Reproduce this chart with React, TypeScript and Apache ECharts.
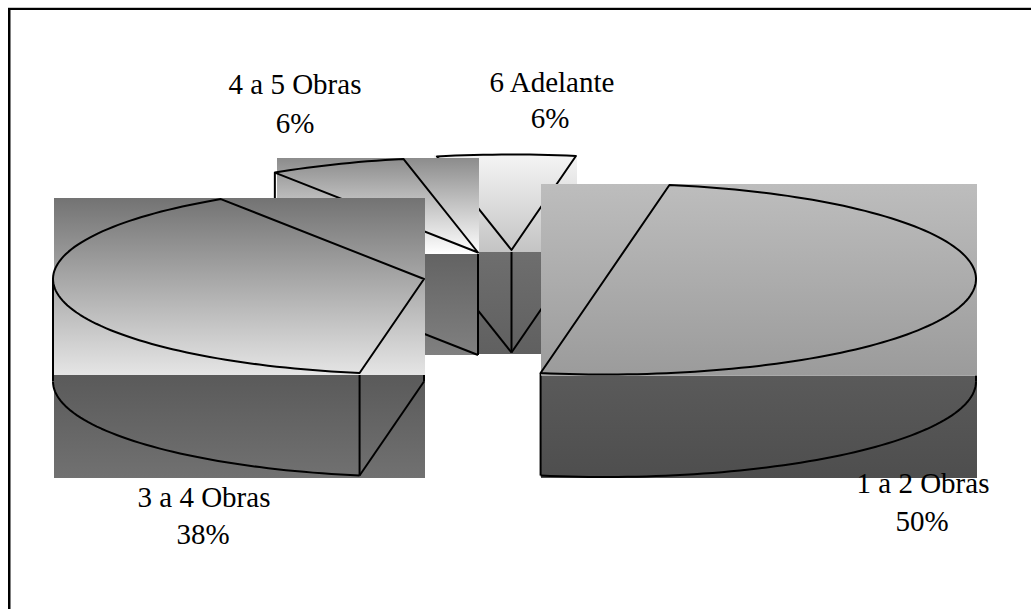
import React, { useEffect, useRef } from "react";
import * as echarts from "echarts";

const categories = ["1 a 2 Obras", "3 a 4 Obras", "4 a 5 Obras", "6 Adelante"];
const percents = [50, 38, 6, 6];
const startAngleDeg = 80;

const FONT = '"Liberation Serif", "Times New Roman", serif';
const RX = 371;
const RY = 95.5;
const THICK = 102.5;

// Drawing layout of each exploded slice (pixels on the 1031x609 page).
const sliceLayouts = [
  {
    apex: [605, 279], top: [541, 184, 436, 191.7], side: [541, 375.7, 436, 102.3],
    topColors: ["#bdbdbd", "#9b9b9b"], sideColors: ["#5a5a5a", "#4e4e4e"],
    frontArc: true, startEdge: false, endEdge: false, rimStart: false,
  },
  {
    apex: [424, 279], top: [54, 198, 371, 177], side: [54, 375, 371, 103],
    topColors: ["#737373", "#e5e5e5"], sideColors: ["#5a5a5a", "#717171"],
    frontArc: true, startEdge: true, endEdge: false, rimStart: false,
  },
  {
    apex: [478, 252.5], top: [277, 158, 202, 96], side: [277, 254, 202, 101],
    topColors: ["#8c8c8c", "#ffffff"], sideColors: ["#636363", "#808080"],
    frontArc: false, startEdge: true, endEdge: false, rimStart: true,
  },
  {
    apex: [511.5, 250], top: [434, 155, 143, 97], side: [434, 252, 143, 102],
    topColors: ["#f4f4f4", "#c4c4c4"], sideColors: ["#6e6e6e", "#606060"],
    frontArc: false, startEdge: true, endEdge: true, rimStart: false,
  },
];

const labelLayouts = [
  { x: 923, y1: 490, x2: 922, y2: 528 },
  { x: 204, y1: 504, x2: 203, y2: 541 },
  { x: 295, y1: 91, x2: 295, y2: 130 },
  { x: 552, y1: 89, x2: 550, y2: 125 },
];

const LINE = { stroke: "#000", lineWidth: 2, fill: null as any, lineJoin: "round" };

function onEllipse(apex: number[], deg: number, dy = 0): number[] {
  const t = (deg * Math.PI) / 180;
  return [apex[0] + RX * Math.cos(t), apex[1] - RY * Math.sin(t) + dy];
}

function arcPoints(apex: number[], from: number, to: number, dy = 0): number[][] {
  const n = Math.max(2, Math.ceil(Math.abs(from - to) / 1.5));
  const pts: number[][] = [];
  for (let i = 0; i <= n; i++) pts.push(onEllipse(apex, from + ((to - from) * i) / n, dy));
  return pts;
}

function sliceAngles(index: number): [number, number] {
  let a = startAngleDeg;
  for (let i = 0; i < index; i++) a -= (percents[i] * 360) / 100;
  return [a, a - (percents[index] * 360) / 100];
}

function gradient(c: string[]) {
  return new echarts.graphic.LinearGradient(0, 0, 0, 1, [
    { offset: 0, color: c[0] },
    { offset: 1, color: c[1] },
  ]);
}

function rectEl(r: number[], colors: string[]) {
  return {
    type: "rect",
    shape: { x: r[0], y: r[1], width: r[2], height: r[3] },
    style: { fill: gradient(colors), stroke: null },
  };
}

function lineEl(points: number[][]) {
  return { type: "polyline", shape: { points }, style: { ...LINE } };
}

function renderSlice(_params: any, api: any) {
  const index = api.value(0);
  const l = sliceLayouts[index];
  const [a0, a1] = sliceAngles(index);
  const children: any[] = [];

  children.push(rectEl(l.side, l.sideColors));

  if (l.frontArc) {
    // the lower rim is visible only on the front half of the ellipse (0 to -180 degrees)
    const from = Math.min(a0, 0);
    const to = Math.max(a1, -180);
    children.push(lineEl(arcPoints(l.apex, from, to, THICK)));
    children.push(lineEl([onEllipse(l.apex, from), onEllipse(l.apex, from, THICK)]));
    children.push(lineEl([onEllipse(l.apex, to), onEllipse(l.apex, to, THICK)]));
  }
  const bottomApex = [l.apex[0], l.apex[1] + THICK];
  if (l.startEdge) children.push(lineEl([onEllipse(l.apex, a0, THICK), bottomApex]));
  if (l.endEdge) children.push(lineEl([onEllipse(l.apex, a1, THICK), bottomApex]));
  if (l.startEdge || l.endEdge) children.push(lineEl([l.apex, bottomApex]));
  if (l.rimStart) children.push(lineEl([onEllipse(l.apex, a0), onEllipse(l.apex, a0, THICK)]));

  children.push(rectEl(l.top, l.topColors));

  const face = [l.apex, ...arcPoints(l.apex, a0, a1)];
  children.push({ type: "polygon", shape: { points: face }, style: { ...LINE } });

  return { type: "group", children };
}

function renderLabel(_params: any, api: any) {
  const index = api.value(0);
  const l = labelLayouts[index];
  const common = { fontFamily: FONT, fontSize: 29, fill: "#000", textAlign: "center", textVerticalAlign: "bottom" };
  return {
    type: "group",
    children: [
      { type: "text", style: { ...common, text: categories[index], x: l.x, y: l.y1 + 7 } },
      { type: "text", style: { ...common, text: `${percents[index]}%`, x: l.x2, y: l.y2 + 7 } },
    ],
  };
}

export default function App() {
  const ref = useRef<HTMLDivElement>(null);
  useEffect(() => {
    document.body.style.margin = "0";
    document.body.style.background = "#fff";
    const chart = echarts.init(ref.current!, null, { renderer: "svg" });
    const drawOrder = [3, 2, 1, 0];
    chart.setOption({
      animation: false,
      backgroundColor: "#fff",
      xAxis: { show: false },
      yAxis: { show: false },
      graphic: [
        { type: "rect", shape: { x: 8, y: 7, width: 1023, height: 1 }, style: { fill: "#c8c8c8" }, z: 1 },
        { type: "rect", shape: { x: 8, y: 8, width: 1023, height: 2 }, style: { fill: "#000" }, z: 1 },
        { type: "rect", shape: { x: 8, y: 8, width: 2, height: 601 }, style: { fill: "#000" }, z: 1 },
        { type: "rect", shape: { x: 10, y: 10, width: 1, height: 599 }, style: { fill: "#808080" }, z: 1 },
      ],
      series: [
        {
          type: "custom",
          coordinateSystem: "none",
          renderItem: renderSlice,
          data: drawOrder.map((i) => [i, percents[i]]),
          silent: true,
          z: 2,
        },
        {
          type: "custom",
          coordinateSystem: "none",
          renderItem: renderLabel,
          data: drawOrder.map((i) => [i, percents[i]]),
          silent: true,
          z: 3,
        },
      ],
    });
    return () => chart.dispose();
  }, []);
  return <div ref={ref} style={{ width: 1031, height: 609 }} />;
}
